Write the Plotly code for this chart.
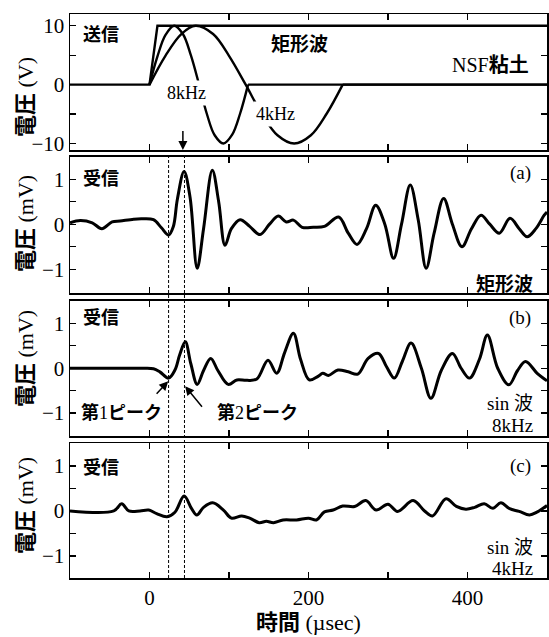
import plotly.graph_objects as go

# ---------------- data ----------------
# transmitted signals (V)
t_rect = [-100, 0, 10, 500]
v_rect = [0, 0, 10, 10]
t_8k = [0, 10, 20, 31, 42, 52, 62, 72, 82, 93, 104, 114, 124]
v_8k = [0, 4.8, 8.4, 10, 8.6, 5.0, 0.2, -4.9, -8.6, -10, -8.5, -4.9, 0]
t_8k_after = [124, 500]
v_8k_after = [0, 0]
t_4k = [0, 20, 40, 58, 80, 100, 121, 141, 161, 182, 203, 223, 243]
v_4k = [0, 4.9, 8.6, 10, 8.6, 4.9, 0, -4.9, -8.6, -10, -8.6, -4.9, 0]
t_4k_after = [243, 500]
v_4k_after = [0, 0]

# received signal (a) rectangular wave (mV)
t_a = [-100, -87, -72, -60, -47, -37, -20, -10, 5, 15, 24, 30, 35, 43.5, 51, 60, 68,
       79, 87, 95, 103, 114, 126, 139, 151, 162, 172, 181, 192, 206, 220, 238, 250,
       261, 273, 284.5, 296, 307, 317, 328, 338, 348, 358, 370, 381, 393, 405, 417,
       428, 440, 453.5, 465, 475, 486, 496.5, 500]
v_a = [0.03, 0.08, 0.03, -0.1, 0.05, 0.07, 0.11, 0.12, 0.1, -0.08, -0.24, -0.05, 0.55,
       1.17, 0.6, -0.98, -0.1, 1.2, 0.5, -0.47, -0.1, 0.1, -0.05, -0.23, 0.0, 0.18,
       0.05, 0.09, -0.07, -0.07, -0.05, 0.16, -0.2, -0.45, -0.1, 0.42, 0.0, -0.76,
       0.0, 0.87, 0.1, -0.98, -0.2, 0.57, 0.0, -0.5, -0.1, 0.2, 0.0, -0.2, 0.13,
       -0.1, -0.28, -0.1, 0.2, 0.27]

# received signal (b) sine 8 kHz (mV)
t_b = [-100, -50, -10, 5, 13, 24, 32, 38, 45, 52, 60, 68, 77, 86, 99, 110, 122, 135,
       149, 160, 170, 181, 190, 201, 212, 218, 225, 237, 250, 262, 275, 288, 298, 308,
       318, 329, 342, 354, 367, 381, 392, 402.5, 415, 425, 438, 452, 463, 473, 488, 500]
v_b = [0, 0, 0, -0.01, -0.08, -0.22, -0.04, 0.3, 0.59, 0.1, -0.36, -0.05, 0.22, -0.05,
       -0.36, -0.26, -0.27, -0.24, 0.18, -0.11, 0.35, 0.78, 0.2, -0.26, -0.18, -0.11,
       -0.16, -0.04, -0.08, -0.13, 0.22, 0.33, 0.04, -0.22, 0.15, 0.56, 0.0, -0.67,
       -0.05, 0.33, 0.0, -0.22, 0.2, 0.74, 0.0, -0.37, -0.05, 0.15, -0.12, -0.28]

# received signal (c) sine 4 kHz (mV)
t_c = [-100, -45, -35, -26, -12, -1, 9, 22, 32, 43.5, 53, 59.5, 68, 79.5, 93, 103, 116,
       126, 138, 147, 156, 168, 185, 200, 210, 220, 231, 243, 258, 272, 285, 300, 312,
       331.6, 346, 356, 373, 386, 398, 409, 421, 432, 442, 453, 465, 478, 488, 500]
v_c = [0, 0, 0.16, 0.0, 0.0, 0.02, -0.06, -0.13, -0.03, 0.33, 0.05, -0.09, 0.08, 0.18,
       0.02, -0.16, -0.11, -0.16, -0.26, -0.23, -0.26, -0.2, -0.2, -0.16, -0.2, -0.02,
       0.02, 0.11, 0.1, 0.23, 0.02, 0.15, -0.01, 0.23, 0.0, -0.11, 0.27, 0.1, 0.04,
       0.08, 0.16, 0.06, 0.18, 0.05, -0.01, -0.09, -0.02, 0.12]

peak_times = [24, 44]          # dashed marker lines (µsec)
x_ticks = [0, 100, 200, 300, 400]
x_ticktext = ["0", "", "200", "", "400"]
yV_ticks = [-10, -5, 0, 5, 10]
yV_ticktext = ["\u221210", "", "0", "", "10"]
ymV_ticks = [-1, -0.5, 0, 0.5, 1]
ymV_ticktext = ["\u22121", "", "0", "", "1"]

# ---------------- layout geometry ----------------
W, H = 549, 637
L, R, T, B = 70, 2, 14, 59
PW = W - L - R
PH = H - T - B


def px(x):
    return (x - L) / PW


def py(y):
    return (H - B - y) / PH


SERIF = "Liberation Serif"
CJK = "Noto Sans CJK JP"
MIX = "Liberation Serif, Noto Sans CJK JP"

fig = go.Figure()

LW_T = 2.4
LW_R = 3.0
blk = "black"

# panel 1
for tx, vy, shape in [(t_rect, v_rect, "linear"), (t_8k, v_8k, "spline"),
                      (t_8k_after, v_8k_after, "linear"), (t_4k, v_4k, "spline"),
                      (t_4k_after, v_4k_after, "linear")]:
    fig.add_trace(go.Scatter(x=tx, y=vy, mode="lines", xaxis="x", yaxis="y",
                             line=dict(color=blk, width=LW_T, shape=shape),
                             showlegend=False, hoverinfo="skip"))
# panels a, b, c
for i, (tx, vy) in enumerate([(t_a, v_a), (t_b, v_b), (t_c, v_c)]):
    fig.add_trace(go.Scatter(x=tx, y=vy, mode="lines", xaxis=f"x{i+2}", yaxis=f"y{i+2}",
                             line=dict(color=blk, width=LW_R, shape="spline", smoothing=1.0),
                             showlegend=False, hoverinfo="skip"))

axis_common = dict(showline=True, linewidth=1.5, linecolor=blk, mirror="ticks",
                   ticks="inside", ticklen=6, tickwidth=1.3, tickcolor=blk,
                   showgrid=False, zeroline=False, automargin=False,
                   tickfont=dict(family=SERIF, size=21, color=blk))

domains = [[py(150), 1.0], [py(293), py(156.7)], [py(436), py(300.5)], [0.0, py(443)]]
yranges = [[-11.1, 12], [-1.53, 1.5], [-1.51, 1.51], [-1.49, 1.51]]

layout = dict(width=W, height=H, margin=dict(l=L, r=R, t=T, b=B), autosize=False,
              plot_bgcolor="white", paper_bgcolor="white", showlegend=False)
for i in range(4):
    xs = "" if i == 0 else str(i + 1)
    xa = dict(axis_common, range=[-100, 500], tickvals=x_ticks, ticktext=x_ticktext,
              anchor="y" + xs, domain=[0, 1], showticklabels=(i == 3))
    if i > 0:
        xa["matches"] = "x"
    ya = dict(axis_common, range=yranges[i], anchor="x" + xs, domain=domains[i])
    if i == 0:
        ya.update(tickvals=yV_ticks, ticktext=yV_ticktext)
    else:
        ya.update(tickvals=ymV_ticks, ticktext=ymV_ticktext)
    layout["xaxis" + xs] = xa
    layout["yaxis" + xs] = ya
fig.update_layout(**layout)

# dashed marker lines across received panels
for tp in peak_times:
    fig.add_shape(type="line", xref="x4", yref="paper", x0=tp, x1=tp, y0=0, y1=domains[1][1],
                  line=dict(color=blk, width=1, dash="3px,2px"))

ann = []


def label(text, x, y, size=19, family=MIX, xanchor="center", bg=None, angle=0):
    d = dict(text=text, x=px(x), y=py(y), xref="paper", yref="paper", showarrow=False,
             xanchor=xanchor, yanchor="middle", textangle=angle,
             font=dict(family=family, size=size, color=blk))
    if bg:
        d.update(bgcolor=bg, borderpad=2)
    ann.append(d)


# panel 1 labels
label("<b>送信</b>", 101, 35, 18)
label("<b>矩形波</b>", 299, 44, 19)
label("NSF<b>粘土</b>", 531, 65, 20, xanchor="right")
label("8kHz", 186, 93, 18, family=SERIF, bg="white")
label("4kHz", 275, 114, 18, family=SERIF, bg="white")
# panel a
label("<b>受信</b>", 101, 179, 18)
label("(a)", 533, 173, 19, family=SERIF, xanchor="right")
label("<b>矩形波</b>", 535, 284, 19, xanchor="right")
# panel b
label("<b>受信</b>", 101, 317, 18)
label("(b)", 533, 318, 19, family=SERIF, xanchor="right")
label("sin 波", 535, 404, 19, xanchor="right")
label("8kHz", 535, 425, 19, family=SERIF, xanchor="right")
label("<b>第</b>1<b>ピーク</b>", 121, 413, 18)
label("<b>第</b>2<b>ピーク</b>", 257, 413, 18)
# panel c
label("<b>受信</b>", 101, 467, 18)
label("(c)", 533, 466, 19, family=SERIF, xanchor="right")
label("sin 波", 535, 547, 19, xanchor="right")
label("4kHz", 535, 568, 19, family=SERIF, xanchor="right")
# axis titles
label("<b>電圧</b> (V)", 25, 97, 22, angle=-90)
label("<b>電圧</b> (mV)", 25, 224, 22, angle=-90)
label("<b>電圧</b> (mV)", 25, 359, 22, angle=-90)
label("<b>電圧</b> (mV)", 25, 506, 22, angle=-90)
label("<b>時間</b> (\u00b5sec)", 308, 622, 22)

# arrows
ann.append(dict(x=42, y=-11.1, xref="x", yref="y", ax=42, ay=-7.6, axref="x", ayref="y",
                text="", showarrow=True, arrowhead=2, arrowsize=1.2, arrowwidth=1.5,
                arrowcolor=blk))
ann.append(dict(x=23.5, y=-0.29, xref="x3", yref="y3", ax=7.2, ay=-0.6, axref="x3",
                ayref="y3", text="", showarrow=True, arrowhead=2, arrowsize=1.2,
                arrowwidth=1.5, arrowcolor=blk))
ann.append(dict(x=44.8, y=-0.4, xref="x3", yref="y3", ax=67.6, ay=-0.89, axref="x3",
                ayref="y3", text="", showarrow=True, arrowhead=2, arrowsize=1.2,
                arrowwidth=1.5, arrowcolor=blk))
fig.update_layout(annotations=ann)

fig.write_html("out.html", config={"displayModeBar": False, "staticPlot": True},
               post_script="document.body.style.margin='0';document.body.style.overflow='hidden';")
